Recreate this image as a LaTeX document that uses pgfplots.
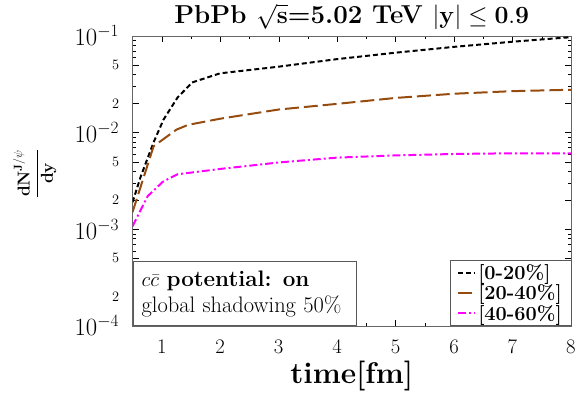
\documentclass[border=0pt]{standalone}
\usepackage{pgfplots}
\pgfplotsset{compat=1.18}
\definecolor{mybrown}{RGB}{150,75,15}
\definecolor{mymagenta}{RGB}{255,0,255}
\begin{document}
\begin{tikzpicture}
\begin{axis}[
  name=main,
  scale only axis,
  width=440pt, height=291pt,
  xmin=0.5, xmax=8,
  ymode=log, ymin=1e-4, ymax=1e-1,
  xtick={1,2,3,4,5,6,7,8},
  minor x tick num=1,
  ytick={1e-4,1e-3,1e-2,1e-1},
  yticklabels={$10^{-4}$,$10^{-3}$,$10^{-2}$,$10^{-1}$},
  extra y ticks={2e-4,5e-4,2e-3,5e-3,2e-2,5e-2},
  extra y tick labels={$2$,$5$,$2$,$5$,$2$,$5$},
  extra y tick style={yticklabel style={font=\fontsize{14}{16}\selectfont}},
  minor ytick={3e-4,4e-4,6e-4,7e-4,8e-4,9e-4,3e-3,4e-3,6e-3,7e-3,8e-3,9e-3,3e-2,4e-2,6e-2,7e-2,8e-2,9e-2},
  xticklabel style={font=\fontsize{22}{26}\selectfont, yshift=-11pt},
  yticklabel style={font=\fontsize{24}{28}\selectfont, xshift=-10pt},
  tick style={black},
  axis line style={gray!80!black},
  major tick length=6pt, minor tick length=3pt,
  title={\fontsize{26}{30}\selectfont\bfseries PbPb $\sqrt{\mathbf{s}}$=5.02 TeV $\vert\mathbf{y}\vert\leq \mathbf{0.9}$},
  title style={yshift=-3pt},
  xlabel={\fontsize{30}{34}\selectfont\bfseries time[fm]},
  xlabel style={yshift=-1pt},
  ylabel={\fontsize{17}{21}\selectfont$\displaystyle\frac{\mathbf{dN}^{\mathbf{J}/\psi}}{\mathbf{dy}}$},
  ylabel style={at={(axis description cs:-0.223,0.526)}, anchor=center},
  legend style={at={(1,0)}, anchor=south east, draw=gray!70!black,
    font=\fontsize{20}{21}\selectfont\bfseries, inner xsep=7pt, inner ysep=2pt},
  legend cell align=left,
]
\addplot[black, line width=2pt, dash pattern=on 5pt off 3pt] coordinates {
(0.5,0.0019) (0.64,0.0035) (0.86,0.0079) (1.03,0.0136) (1.27,0.023) (1.52,0.033) (2.0,0.041) (3.0,0.048) (4.0,0.0575) (5.0,0.067) (6.0,0.077) (7.0,0.087) (8.0,0.097)};
\addlegendentry{\mbox{[}0-20\%\mbox{]}}
\addplot[mybrown, line width=2pt, dash pattern=on 14pt off 5pt] coordinates {
(0.5,0.0015) (0.86,0.0072) (1.25,0.0107) (1.45,0.012) (2.0,0.0139) (3.0,0.0173) (4.0,0.0198) (5.0,0.0228) (6.0,0.0252) (7.0,0.0268) (8.0,0.0277)};
\addlegendentry{\mbox{[}20-40\%\mbox{]}}
\addplot[mymagenta, line width=2pt, dash pattern=on 8pt off 3pt on 2pt off 3pt] coordinates {
(0.5,0.00107) (0.76,0.0022) (1.02,0.0031) (1.27,0.0037) (2.0,0.0042) (3.0,0.0049) (4.0,0.0055) (5.0,0.0058) (6.0,0.0060) (7.0,0.0061) (8.0,0.0061)};
\addlegendentry{\mbox{[}40-60\%\mbox{]}}
\end{axis}
\node[draw=gray!70!black, fill=white, anchor=south west, align=left, inner sep=9pt,
  minimum width=224pt, minimum height=63pt, text width=206pt, font=\fontsize{22.5}{26}\selectfont]
  at (main.south west) {$c\bar{c}$ \textbf{potential: on}\\ global shadowing 50\%};
\path ([xshift=-133pt,yshift=-79pt]main.south west) rectangle ([xshift=6pt,yshift=36pt]main.north east);
\end{tikzpicture}
\end{document}
